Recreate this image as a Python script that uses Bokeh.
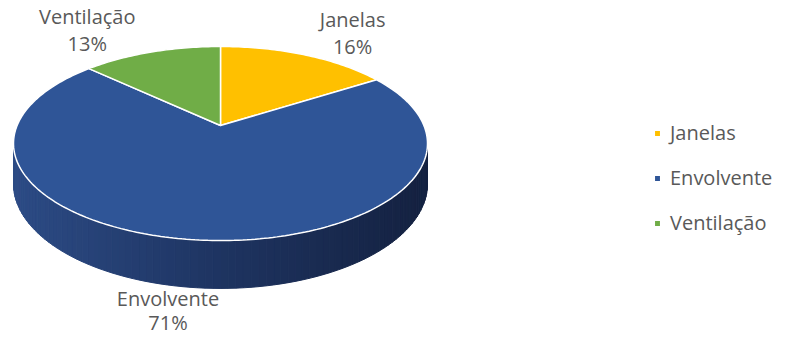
import math
from bokeh.plotting import figure
from bokeh.models import Range1d, Legend, LegendItem
from bokeh.core.properties import value
from bokeh.embed import file_html
from bokeh.resources import INLINE

# ---- data ----
categories = ["Janelas", "Envolvente", "Ventilação"]
values = [16, 71, 13]
colors = ["#FFC000", "#2F5597", "#70AD47"]
side_stops = ["#2C4B85", "#1E3461", "#142140"]

# ---- layout (pixel-like data space) ----
W, H_ = 777, 337
CX, CY = 220.0, 125.0          # apex of the pie
A, B, K = 203.4, 93.7, 0.1856  # perspective ellipse
DEPTH = 39.0
FONT = "Open Sans"
FS = "20px"
TXT = "#595959"

p = figure(width=W, height=H_, output_backend="svg", toolbar_location=None,
           x_range=Range1d(0, W), y_range=Range1d(H_, 0),
           min_border=0, outline_line_color=None)
p.axis.visible = False
p.grid.visible = False
p.background_fill_color = "white"
p.border_fill_color = "white"


def proj(theta, r=1.0, depth=0.0):
    X = r * math.sin(theta)
    Z = r * math.cos(theta)
    d = 1 + K * Z
    return CX + A * X / d, CY - B * Z / d + depth * DEPTH / d


def hex2rgb(h):
    h = h.lstrip("#")
    return [int(h[i:i + 2], 16) for i in (0, 2, 4)]


def grad(t):
    stops = [hex2rgb(c) for c in side_stops]
    seg = min(int(t * (len(stops) - 1)), len(stops) - 2)
    u = t * (len(stops) - 1) - seg
    c = [round(stops[seg][i] + (stops[seg + 1][i] - stops[seg][i]) * u) for i in range(3)]
    return "#%02x%02x%02x" % tuple(c)


total = float(sum(values))
bounds = []
acc = 0.0
for v in values:
    a0 = acc / total * 2 * math.pi
    acc += v
    a1 = acc / total * 2 * math.pi
    bounds.append((a0, a1))

# ---- side wall (visible front part) ----
ta = math.acos(-K)
tb = 2 * math.pi - ta
sx, sy, sc = [], [], []
for (a0, a1), col in zip(bounds, colors):
    lo, hi = max(a0, ta), min(a1, tb)
    if hi <= lo:
        continue
    n = 90
    for i in range(n):
        t0 = lo + (hi - lo) * i / n
        t1 = lo + (hi - lo) * (i + 1) / n
        xa, ya = proj(t0)
        xb, yb = proj(t1)
        xc, yc = proj(t1, depth=1)
        xd, yd = proj(t0, depth=1)
        sx.append([xa, xb, xc, xd])
        sy.append([ya, yb, yc, yd])
        xm = (xa + xb) / 2
        tpos = (xm - (CX - A * 1.02)) / (2 * A * 1.02)
        sc.append(grad(min(max(tpos, 0), 1)))
p.patches(sx, sy, fill_color=sc, line_color=sc, line_width=1)

# ---- top face slices ----
renderers = []
for (a0, a1), col in zip(bounds, colors):
    n = max(int((a1 - a0) / (2 * math.pi) * 360), 8)
    xs, ys = [CX], [CY]
    for i in range(n + 1):
        x, y = proj(a0 + (a1 - a0) * i / n)
        xs.append(x)
        ys.append(y)
    r = p.patch(xs, ys, fill_color=col, line_color="white", line_width=1.5)
    renderers.append(r)

# ---- data labels ----
for (a0, a1), cat, v in zip(bounds, categories, values):
    m = (a0 + a1) / 2
    X, Z = math.sin(m), math.cos(m)
    if Z < 0:
        x, y = proj(m, depth=1)
    else:
        x, y = proj(m)
    if X > 0.3:
        hx, x = "left", x + 15
    elif X < -0.3:
        hx, x = "right", x - 16
    else:
        hx, x = "center", x - 29
    if Z >= 0:
        vy, y, lh = "bottom", y + 5, 1.0
    else:
        vy, y, lh = "top", y - 3, 0.88
    an = f"{vy}_{hx}"
    p.text(x=[x], y=[y], text=[f"{cat}\n{v}%"], anchor=an, text_align="center",
           text_font=value(FONT), text_font_size=FS, text_color=TXT,
           text_line_height=lh)

# ---- legend ----
legend = Legend(items=[LegendItem(label=c, renderers=[r]) for c, r in zip(categories, renderers)],
                location=(653, 101), orientation="vertical",
                glyph_width=8, glyph_height=8, label_standoff=9, spacing=18,
                label_height=24,
                label_text_font=FONT, label_text_font_size=FS, label_text_color=TXT,
                border_line_color=None, background_fill_alpha=0, padding=0, margin=0)
p.add_layout(legend, "center")

open("out.html", "w").write(file_html(p, INLINE))
